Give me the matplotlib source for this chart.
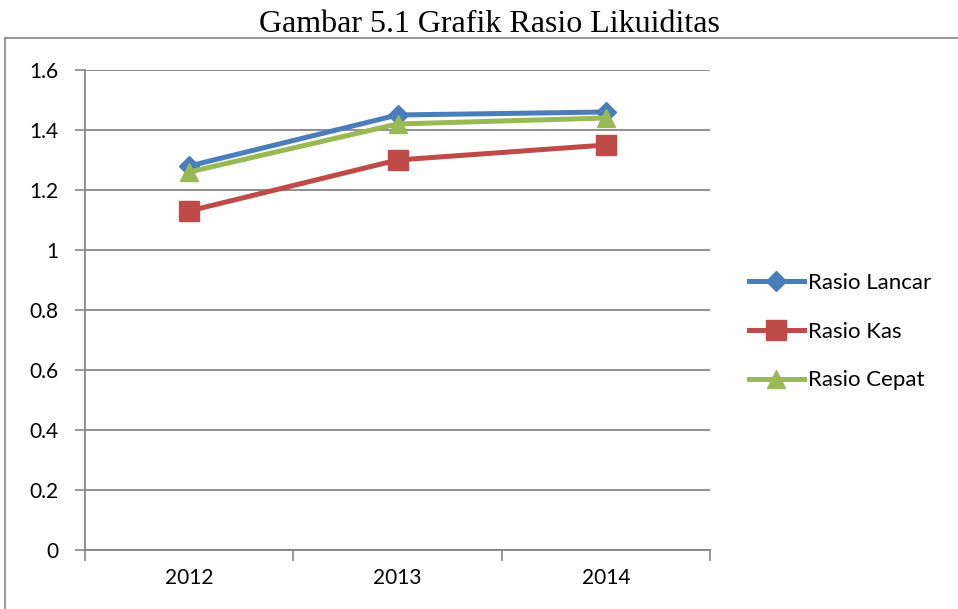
import matplotlib.pyplot as plt
from matplotlib.lines import Line2D

years = ["2012", "2013", "2014"]
rasio_lancar = [1.28, 1.45, 1.46]
rasio_kas = [1.13, 1.30, 1.35]
rasio_cepat = [1.26, 1.42, 1.44]
y_ticks = [0, 0.2, 0.4, 0.6, 0.8, 1, 1.2, 1.4, 1.6]
y_labels = ["0", "0.2", "0.4", "0.6", "0.8", "1", "1.2", "1.4", "1.6"]

W, H = 958, 609
fig = plt.figure(figsize=(W / 100, H / 100), dpi=100)
ax = fig.add_axes([85 / W, (H - 550) / H, (710 - 85) / W, 480 / H])

x = range(len(years))
ax.plot(x, rasio_lancar, color="#4A7EBB", lw=3.6, marker="D", ms=10.5,
        label="Rasio Lancar", zorder=3)
ax.plot(x, rasio_kas, color="#BE4B48", lw=3.6, marker="s", ms=14,
        label="Rasio Kas", zorder=3)
ax.plot(x, rasio_cepat, color="#98B954", lw=3.6, marker="^", ms=13,
        label="Rasio Cepat", zorder=3)

ax.set_xlim(-0.5, 2.5)
ax.set_ylim(0, 1.6)
ax.set_yticks(y_ticks)
ax.set_yticklabels(y_labels)
ax.set_xticks(list(x))
ax.set_xticklabels(years)
ax.set_xticks([-0.5, 0.5, 1.5, 2.5], minor=True)
ax.tick_params(axis="x", which="major", length=0, pad=13)
ax.tick_params(axis="x", which="minor", length=8, width=1.2, color="#868686",
               direction="out")
ax.tick_params(axis="y", length=7, width=1.2, color="#868686", pad=12)
for lab in ax.get_xticklabels() + ax.get_yticklabels():
    lab.set_fontfamily("Lato")
    lab.set_fontsize(15)

ax.grid(axis="y", color="#868686", lw=1.3)
ax.set_axisbelow(True)
for s in ["top", "right"]:
    ax.spines[s].set_visible(False)
for s in ["left", "bottom"]:
    ax.spines[s].set_color("#868686")
    ax.spines[s].set_linewidth(1.3)

leg = ax.legend(loc="center left", bbox_to_anchor=(1.045, 0.455), frameon=False,
                prop={"family": "Lato", "size": 16}, handlelength=2.45,
                handletextpad=0.2, labelspacing=1.3, borderpad=0)

# outer chart frame (only top and left visible in the crop)
fig.add_artist(Line2D([5 / W, 5 / W], [0, (H - 38) / H], color="#868686", lw=1.2))
fig.add_artist(Line2D([5 / W, 1], [(H - 38) / H, (H - 38) / H], color="#868686", lw=1.2))

fig.text(489 / W, (H - 25) / H, "Gambar 5.1 Grafik Rasio Likuiditas",
         ha="center", va="center", family="Liberation Serif", fontsize=23)

fig.savefig("out.png", dpi=100)
